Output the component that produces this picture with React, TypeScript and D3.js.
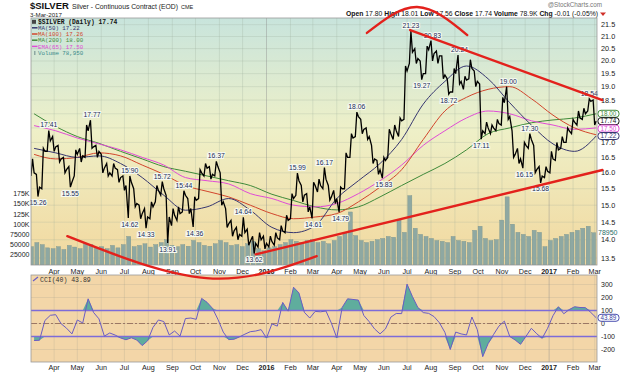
import React from 'react';
import * as d3 from 'd3';

// weekly bars (Fridays), first week ends 6-Mar-2015
const firstFriday = new Date(2015, 2, 6);

const closes = [
  16.0, 15.55, 16.7, 17.05, 16.85, 16.45, 16.1, 15.7, 16.6, 16.55,
  17.4, 16.85, 16.7, 16.15, 16.0, 16.15, 15.85, 15.6, 15.7, 15.05,
  14.75, 14.65, 14.95, 15.45, 15.5, 14.65, 14.7, 14.75, 15.3, 14.9,
  15.15, 16.0, 16.15, 15.95, 16.2, 15.1, 14.45, 14.25, 14.15, 14.2,
  13.95, 13.9, 14.0, 13.9, 13.95, 14.05, 14.25, 14.55, 15.2, 15.75,
  15.3, 14.95, 15.6, 15.6, 15.8, 15.25, 15.2, 15.5, 16.5, 17.15,
  17.9, 17.45, 17.2, 16.45, 16.1, 16.4, 17.3, 17.4, 17.75, 19.6,
  20.35, 20.1, 19.5, 20.45, 20.3, 20.2, 19.45, 18.8, 19.5, 19.2,
  19.25, 19.7, 19.2, 17.4, 17.5, 17.5, 17.65, 18.4, 17.9, 16.6,
  16.45, 16.9, 17.1, 16.1, 15.9, 16.05, 16.45, 16.75, 17.0, 17.4,
  17.7, 17.85, 18.0, 18.45, 17.74
];
const highs = [
  16.45, 15.95, 16.8, 17.41, 17.2, 16.9, 16.5, 16.2, 16.75, 16.8,
  17.6, 17.77, 16.9, 16.6, 16.3, 16.3, 16.1, 15.9, 15.9, 15.5,
  15.0, 14.9, 15.1, 15.6, 15.72, 15.3, 14.9, 14.95, 15.44, 15.2,
  15.25, 16.1, 16.3, 16.2, 16.37, 16.0, 14.9, 14.55, 14.35, 14.64,
  14.3, 14.1, 14.2, 14.1, 14.1, 14.2, 14.4, 14.7, 15.35, 15.99,
  15.6, 15.35, 15.7, 15.8, 16.17, 15.6, 15.45, 15.55, 16.65, 17.3,
  18.06, 17.8, 17.5, 16.9, 16.4, 16.5, 17.45, 17.6, 17.85, 19.8,
  21.23, 20.5, 20.0, 20.6, 20.83, 20.4, 20.2, 19.3, 19.7, 20.24,
  19.4, 20.05, 19.6, 19.1, 17.7, 17.6, 17.8, 18.6, 19.0, 17.4,
  16.8, 17.0, 17.3, 16.9, 16.2, 16.2, 16.7, 17.0, 17.2, 17.5,
  17.8, 18.1, 18.2, 18.54, 18.5
];
const lows = [
  15.9, 15.26, 15.5, 16.7, 16.7, 16.35, 16.0, 15.55, 15.9, 16.35,
  16.5, 16.8, 16.5, 16.0, 15.9, 15.9, 15.7, 15.45, 14.62, 14.95,
  14.6, 14.33, 14.6, 15.1, 15.3, 13.91, 14.4, 14.55, 14.8, 14.75,
  14.36, 15.2, 15.9, 15.8, 15.9, 15.0, 14.35, 14.1, 14.0, 14.1,
  13.85, 13.62, 13.8, 13.75, 13.8, 13.85, 14.0, 14.2, 14.6, 15.3,
  15.1, 14.8, 14.61, 15.4, 15.5, 15.15, 15.05, 14.79, 15.5, 16.5,
  17.2, 17.3, 17.1, 16.3, 15.95, 15.83, 16.5, 17.1, 17.2, 17.8,
  19.9, 19.9, 19.27, 19.5, 20.0, 19.9, 19.3, 18.72, 18.8, 19.1,
  18.9, 19.3, 19.0, 17.11, 17.3, 17.3, 17.4, 17.6, 17.8, 16.5,
  16.3, 16.15, 16.8, 16.0, 15.68, 15.85, 16.0, 16.4, 16.8, 17.0,
  17.3, 17.6, 17.8, 18.1, 17.6
];
const volumes = [
  45000, 55000, 50000, 42000, 40000, 45000, 38000, 48000, 44000, 40000,
  52000, 50000, 42000, 45000, 40000, 48000, 42000, 50000, 70000, 45000,
  48000, 52000, 44000, 50000, 55000, 62000, 48000, 45000, 50000, 46000,
  60000, 55000, 48000, 46000, 52000, 60000, 55000, 48000, 50000, 45000,
  52000, 58000, 40000, 35000, 42000, 45000, 50000, 55000, 62000, 58000,
  55000, 60000, 62000, 55000, 58000, 52000, 60000, 70000, 80000, 130000,
  72000, 60000, 55000, 58000, 62000, 65000, 70000, 68000, 110000, 80000,
  170000, 90000, 75000, 70000, 65000, 60000, 58000, 55000, 70000, 60000,
  58000, 55000, 85000, 95000, 65000, 60000, 62000, 110000, 167000, 100000,
  80000, 75000, 70000, 85000, 80000, 45000, 60000, 65000, 70000, 75000,
  80000, 85000, 90000, 95000, 78950
];
const cci = [
  -131, -129, 23, 63, 68, -2, -36, -80, 27, 4,
  190, 85, 36, -97, -73, -89, -111, -125, -110, -127,
  -170, -133, -30, 27, 15, -88, -58, -97, 38, 42,
  32, 193, 163, 117, 33, -66, -124, -121, -103, -82,
  -63, -58, -47, -112, -3, -20, 162, 95, 279, 235,
  86, 42, 93, 90, 96, 3, -110, 124, 190, 185,
  180, 62, 14, -42, -80, -42, 49, 77, 76, 303,
  207, 123, 84, 78, 53, 5, -68, -200, -66, -80,
  -88, 50, -48, -255, -155, -85, -20, 18, -100, -127,
  -160, -99, -37, -79, -114, -37, 60, 129, 75, 107,
  129, 123, 122, 85, 43.89
];

// moving averages read every 4th week
const MA_STEP = 4;
const ma50 = [16.8, 16.65, 16.5, 16.55, 16.3, 15.85, 15.3, 14.85, 14.95, 15.2, 14.85, 14.35, 14.2, 14.4, 15.2, 15.75, 16.3, 17.1, 18.35, 19.2, 19.8, 19.3, 18.4, 17.6, 16.95, 16.7, 17.22];
const ma100 = [16.6, 16.45, 16.5, 16.65, 16.55, 16.25, 15.95, 15.6, 15.42, 15.25, 15.0, 14.75, 14.6, 14.65, 14.75, 15.1, 15.55, 16.1, 17.1, 18.1, 18.6, 18.9, 19.0, 18.55, 17.95, 17.5, 17.26];
const ma200 = [18.0, 17.55, 17.2, 16.97, 16.7, 16.45, 16.2, 16.05, 15.9, 15.75, 15.6, 15.33, 15.14, 14.95, 14.86, 14.95, 15.25, 15.6, 15.95, 16.3, 16.75, 17.3, 17.5, 17.68, 17.78, 17.85, 18.0];
const ema65 = [17.58, 17.4, 17.15, 16.95, 16.75, 16.5, 16.25, 15.85, 15.75, 15.65, 15.35, 15.2, 15.0, 14.95, 15.05, 15.35, 15.75, 16.25, 16.9, 17.4, 17.85, 18.1, 18.0, 17.75, 17.6, 17.45, 17.5];

// annotated highs / lows (week index)
const highLabels = [3, 11, 18, 24, 28, 34, 39, 49, 54, 60, 70, 74, 79, 88, 92, 103];
const lowLabels = [1, 7, 18, 21, 25, 30, 41, 52, 57, 65, 72, 77, 83, 91, 94];

const priceTicks = [13.5, 14, 14.5, 15, 15.5, 16, 16.5, 17, 17.5, 18, 18.5, 19, 19.5, 20, 20.5, 21, 21.5];
const volTicks = [25000, 50000, 75000, 100000, 125000, 150000, 175000];
const cciTicks = [-200, -100, 0, 100, 200, 300];

// hand-drawn red annotations, in date / price terms
const topArc = [['2016-05-10', 21.15], ['2016-07-14', 22.27], ['2016-09-17', 21.06]];
const bottomArc = [['2015-04-18', 14.1], ['2015-10-15', 12.97], ['2016-03-06', 13.55]];
const downTrend = [['2016-07-05', 21.27], ['2017-03-11', 18.5]];
const upTrend = [['2015-12-18', 13.6], ['2017-03-11', 16.09]];

const weekDate = (i: number) => d3.timeDay.offset(firstFriday, i * 7);
const pDate = (s: string) => d3.timeParse('%Y-%m-%d')(s) as Date;
const last = (a: number[]) => a[a.length - 1];

export default function App() {
  const L = 31, R = 597;
  const top = 18, bottom = 265;
  const cTop = 275, cBottom = 362;

  const x = d3.scaleTime().domain([new Date(2015, 2, 2), new Date(2017, 2, 4)]).range([L, R]);
  const y = d3.scaleLog().domain([13.5, 21.5]).range([258, 24.7]);
  const yVol = d3.scaleLinear().domain([0, 175000]).range([bottom, 193.6]);
  const yC = d3.scaleLinear().domain([-100, 100]).range([336.5, 310.5]);

  const months = d3.timeMonth.range(new Date(2015, 3, 1), new Date(2017, 2, 2));
  const monthLabel = (d: Date) => d.getMonth() === 0 ? String(d.getFullYear()) : d3.timeFormat('%b')(d);

  // price path: within each week go through the extremes, then the close
  const pts: [number, number][] = [];
  closes.forEach((c, i) => {
    const d = weekDate(i);
    const prev = i ? closes[i - 1] : c;
    const up = c >= prev;
    pts.push([x(d3.timeDay.offset(d, -4)), y(up ? lows[i] : highs[i])]);
    pts.push([x(d3.timeDay.offset(d, -2)), y(up ? highs[i] : lows[i])]);
    pts.push([x(d), y(c)]);
  });
  const pricePath = d3.line()(pts) || '';

  const maLine = d3.line<number>()
    .x((_, k) => x(weekDate(k * MA_STEP)))
    .y(d => y(d))
    .curve(d3.curveMonotoneX);

  const annLine = d3.line<any>().x(d => x(pDate(d[0]))).y(d => y(d[1]));
  const annArc = d3.line<any>().x(d => x(pDate(d[0]))).y(d => y(d[1])).curve(d3.curveNatural);

  const cciLine = d3.line<number>().x((_, i) => x(weekDate(i))).y(d => yC(d));
  const cciUp = d3.area<number>().x((_, i) => x(weekDate(i))).y0(yC(100)).y1(d => yC(Math.max(d, 100)));
  const cciDown = d3.area<number>().x((_, i) => x(weekDate(i))).y0(yC(-100)).y1(d => yC(Math.min(d, -100)));

  const sans = 'Liberation Sans, Arial, sans-serif';
  const mono = 'Liberation Mono, DejaVu Sans Mono, monospace';
  const labelColor = '#1d2b57';
  const halo = { stroke: '#f6faf2', strokeWidth: 2.2, paintOrder: 'stroke' as const };

  const cMA50 = '#35356f', cMA100 = '#d2452c', cMA200 = '#3f8a3a', cEMA = '#e04bd6';

  // right-edge value tags, nudged apart so they do not collide
  const tags = [
    { v: last(ma200), color: cMA200 },
    { v: last(closes), color: '#111' },
    { v: last(ema65), color: cEMA },
    { v: last(ma50), color: cMA50 },
  ].map(t => ({ ...t, yy: y(t.v) })).sort((a, b) => a.yy - b.yy);
  for (let k = 1; k < tags.length; k++) {
    if (tags[k].yy - tags[k - 1].yy < 7.4) tags[k].yy = tags[k - 1].yy + 7.4;
  }
  // axis labels hidden behind a tag, as on the original
  const tickVisible = (t: number) => tags.every(g => Math.abs(g.yy - y(t)) > 4.5);

  return (
    <svg width={624} height={372} style={{ position: 'absolute', left: 0, top: 0, background: '#fff' }}>
      <defs>
        <linearGradient id="mainBg" x1="0" y1="0" x2="0" y2="1">
          <stop offset="0" stopColor="#c8e4dc" />
          <stop offset="0.45" stopColor="#eef0c8" />
          <stop offset="1" stopColor="#f2d89e" />
        </linearGradient>
        <clipPath id="mainClip"><rect x={L} y={top} width={R - L} height={bottom - top} /></clipPath>
        <clipPath id="cciClip"><rect x={L} y={cTop} width={R - L} height={cBottom - cTop} /></clipPath>
      </defs>

      {/* header */}
      <text x={30} y={9} fontFamily={sans} fill="#111">
        <tspan fontSize={9.5} fontWeight="bold">$SILVER</tspan>
        <tspan fontSize={6.8} dx={3} fill="#222">Silver - Continuous Contract (EOD)</tspan>
        <tspan fontSize={5.5} dx={3} fill="#222">CME</tspan>
      </text>
      <text x={30} y={17} fontSize={6.2} fontFamily={sans} fill="#222">3-Mar-2017</text>
      <text x={602} y={6.5} fontSize={6.3} fontFamily={sans} fill="#777" textAnchor="end">@StockCharts.com</text>
      <text x={598} y={15.8} fontSize={6.8} fontFamily={sans} fill="#111" textAnchor="end">
        <tspan fontWeight="bold">Open</tspan> 17.80 <tspan fontWeight="bold">High</tspan> 18.01 <tspan fontWeight="bold">Low</tspan> 17.56 <tspan fontWeight="bold">Close</tspan> 17.74 <tspan fontWeight="bold">Volume</tspan> 78.9K <tspan fontWeight="bold">Chg</tspan> -0.01 (-0.05%)
      </text>
      <path d="M600,12.5 L606,12.5 L603,16 Z" fill="#d0302a" />

      {/* main panel */}
      <rect x={L} y={top} width={R - L} height={bottom - top} fill="url(#mainBg)" />
      {priceTicks.map(t => (
        <line key={'h' + t} x1={L} x2={R} y1={y(t)} y2={y(t)} stroke="#9aa89a" strokeOpacity={0.35} strokeWidth={0.7} />
      ))}
      {months.map(m => (
        <line key={'v' + +m} x1={x(m)} x2={x(m)} y1={top} y2={bottom}
          stroke={m.getMonth() === 0 ? '#8c8c8c' : '#9aa89a'} strokeOpacity={m.getMonth() === 0 ? 0.6 : 0.35} strokeWidth={0.7} />
      ))}

      <g clipPath="url(#mainClip)">
        {volumes.map((v, i) => {
          const xr = x(weekDate(i));
          const xl = x(d3.timeDay.offset(weekDate(i), -6));
          return <rect key={'vol' + i} x={xl} y={yVol(v)} width={xr - xl - 0.6} height={bottom - yVol(v)} fill="#8ea8a2" stroke="#7b948e" strokeWidth={0.4} />;
        })}
        <path d={maLine(ma200) || ''} fill="none" stroke={cMA200} strokeWidth={1} />
        <path d={maLine(ema65) || ''} fill="none" stroke={cEMA} strokeWidth={1} />
        <path d={maLine(ma100) || ''} fill="none" stroke={cMA100} strokeWidth={1} />
        <path d={maLine(ma50) || ''} fill="none" stroke={cMA50} strokeWidth={1} />
        <path d={pricePath} fill="none" stroke="#000" strokeWidth={1.3} strokeLinejoin="miter" />
      </g>

      {highLabels.map(i => (
        <text key={'hl' + i} x={x(d3.timeDay.offset(weekDate(i), -2))} y={y(highs[i]) - 3} fontSize={6.8} fontFamily={sans}
          fill={labelColor} textAnchor="middle" {...halo}>{highs[i].toFixed(2)}</text>
      ))}
      {lowLabels.map(i => (
        <text key={'ll' + i} x={x(d3.timeDay.offset(weekDate(i), -2))} y={y(lows[i]) + 8.5} fontSize={6.8} fontFamily={sans}
          fill={labelColor} textAnchor="middle" {...halo}>{lows[i].toFixed(2)}</text>
      ))}

      <rect x={L} y={top} width={R - L} height={bottom - top} fill="none" stroke="#9a9a9a" strokeWidth={0.8} />

      {/* legend */}
      <g fontFamily={mono} fontSize={5.8}>
        <rect x={32} y={19.8} width={4} height={4} fill="#444" />
        <text x={38} y={24} fill="#111" fontWeight="bold" fontSize={6.3}>$SILVER (Daily) 17.74</text>
        <line x1={32} x2={37.5} y1={27.8} y2={27.8} stroke={cMA50} strokeWidth={1.5} />
        <text x={38} y={30} fill={cMA50}>MA(50) 17.22</text>
        <line x1={32} x2={37.5} y1={34} y2={34} stroke={cMA100} strokeWidth={1.5} />
        <text x={38} y={36.2} fill={cMA100}>MA(100) 17.26</text>
        <line x1={32} x2={37.5} y1={40.2} y2={40.2} stroke={cMA200} strokeWidth={1.5} />
        <text x={38} y={42.4} fill={cMA200}>MA(200) 18.00</text>
        <line x1={32} x2={37.5} y1={46.4} y2={46.4} stroke={cEMA} strokeWidth={1.5} />
        <text x={38} y={48.6} fill={cEMA}>EMA(65) 17.50</text>
        <rect x={34} y={51} width={1.5} height={4} fill="#8ea8a2" />
        <text x={38} y={54.8} fill="#3a8a8a">Volume 78,950</text>
      </g>

      {/* axes */}
      {priceTicks.filter(tickVisible).map(t => (
        <text key={'pt' + t} x={601} y={y(t) + 2.5} fontSize={7.3} fontFamily={sans} fill="#222">{t.toFixed(1)}</text>
      ))}
      {volTicks.map(t => (
        <text key={'vt' + t} x={29.5} y={yVol(t) + 2.5} fontSize={7} fontFamily={sans} fill="#222" textAnchor="end">
          {t >= 100000 ? t / 1000 + 'K' : String(t)}
        </text>
      ))}
      {tags.map(t => (
        <g key={'tag' + t.color}>
          <rect x={598} y={t.yy - 3.5} width={21} height={7} rx={3} fill="#fff" stroke={t.color} strokeWidth={1} />
          <text x={608.5} y={t.yy + 2.1} fontSize={6.3} fontFamily={sans} fill={t.color} textAnchor="middle">{t.v.toFixed(2)}</text>
        </g>
      ))}
      <text x={598} y={yVol(last(volumes)) + 2.5} fontSize={7} fontFamily={sans} fill="#2d6d68">
        {String(last(volumes))}
      </text>

      {months.map(m => (
        <text key={'ml' + +m} x={x(m)} y={273.5} fontSize={7.2} fontFamily={sans} fill="#222" textAnchor="middle"
          fontWeight={m.getMonth() === 0 ? 'bold' : 'normal'}>{monthLabel(m)}</text>
      ))}

      {/* CCI panel */}
      <rect x={L} y={cTop} width={R - L} height={cBottom - cTop} fill="#f3d6a8" />
      {cciTicks.map(t => (
        <line key={'ch' + t} x1={L} x2={R} y1={yC(t)} y2={yC(t)} stroke="#9a9a8a" strokeOpacity={0.3} strokeWidth={0.7} />
      ))}
      {months.map(m => (
        <line key={'cv' + +m} x1={x(m)} x2={x(m)} y1={cTop} y2={cBottom}
          stroke={m.getMonth() === 0 ? '#8c8c8c' : '#9a9a8a'} strokeOpacity={m.getMonth() === 0 ? 0.6 : 0.3} strokeWidth={0.7} />
      ))}
      <g clipPath="url(#cciClip)">
        <path d={cciUp(cci) || ''} fill="#4fa99b" fillOpacity={0.9} />
        <path d={cciDown(cci) || ''} fill="#4fa99b" fillOpacity={0.9} />
        <line x1={L} x2={R} y1={yC(0)} y2={yC(0)} stroke="#9b7764" strokeWidth={1} strokeDasharray="6,2,2,2" />
        <line x1={L} x2={R} y1={yC(100)} y2={yC(100)} stroke="#7d6bd8" strokeWidth={1.6} />
        <line x1={L} x2={R} y1={yC(-100)} y2={yC(-100)} stroke="#7d6bd8" strokeWidth={1.6} />
        <path d={cciLine(cci) || ''} fill="none" stroke="#6a5cc4" strokeWidth={1} />
      </g>
      <rect x={L} y={cTop} width={R - L} height={cBottom - cTop} fill="none" stroke="#9a9a9a" strokeWidth={0.8} />
      <g fontFamily={mono} fontSize={6.5}>
        <line x1={33} x2={38} y1={281} y2={277} stroke="#6a5cc4" strokeWidth={1.2} />
        <text x={40} y={281.5} fill="#333">CCI(40) 43.89</text>
      </g>
      {cciTicks.filter(t => Math.abs(yC(t) - yC(last(cci))) > 4.5).map(t => (
        <text key={'ct' + t} x={601} y={yC(t) + 2.5} fontSize={7} fontFamily={sans} fill="#222">{String(t)}</text>
      ))}
      <rect x={598} y={yC(last(cci)) - 3.5} width={21} height={7} rx={3} fill="#fff" stroke="#4a4fb0" />
      <text x={608.5} y={yC(last(cci)) + 2.1} fontSize={6.3} fontFamily={sans} fill="#3a3f9f" textAnchor="middle">
        {last(cci).toFixed(2)}
      </text>
      {months.map(m => (
        <text key={'cl' + +m} x={x(m)} y={369.5} fontSize={7.2} fontFamily={sans} fill="#222" textAnchor="middle"
          fontWeight={m.getMonth() === 0 ? 'bold' : 'normal'}>{monthLabel(m)}</text>
      ))}

      {/* red annotations */}
      <g fill="none" stroke="#e3211c" strokeWidth={2.4} strokeLinecap="round">
        <path d={annArc(topArc) || ''} />
        <path d={annArc(bottomArc) || ''} />
        <path d={annLine(downTrend) || ''} />
        <path d={annLine(upTrend) || ''} />
      </g>
    </svg>
  );
}
